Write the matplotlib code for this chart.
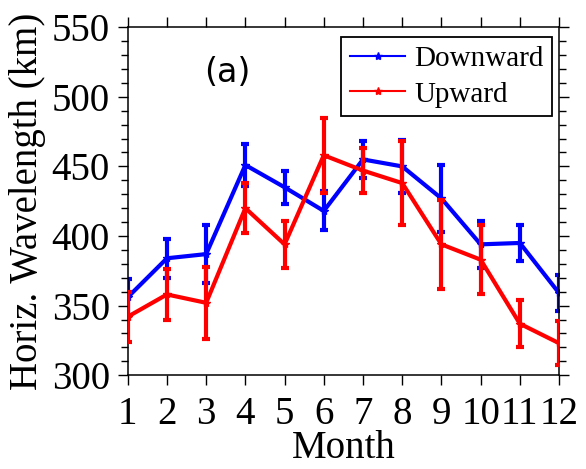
import numpy as np
import matplotlib.pyplot as plt
from matplotlib.ticker import MultipleLocator
from matplotlib.lines import Line2D

months = np.arange(1, 13)
down = [356, 384, 387, 451, 435, 418, 455, 450, 427, 394, 395, 359]
down_err = [13, 14, 21, 15, 12, 14, 13, 19, 24, 17, 13, 13]
up = [342, 358, 352, 420, 394, 458, 447, 438, 394, 383, 337, 323]
up_err = [18, 18, 26, 18, 17, 27, 16, 30, 32, 25, 17, 16]

plt.rcParams['font.family'] = ['Liberation Serif', 'DejaVu Serif']

fig = plt.figure(figsize=(5.86, 4.69), dpi=100)
ax = fig.add_axes([0.218, 0.200, 0.736, 0.742])

ax.errorbar(months, down, yerr=down_err, color='#0000ff', lw=3, elinewidth=3,
            capsize=3, capthick=3, marker='*', ms=6, label='Downward', zorder=2)
ax.errorbar(months, up, yerr=up_err, color='#ff0000', lw=3, elinewidth=3,
            capsize=3, capthick=3, marker='*', ms=6, label='Upward', zorder=3)

ax.set_xlim(1, 12)
ax.set_ylim(300, 550)
ax.set_xticks(months)
ax.yaxis.set_major_locator(MultipleLocator(50))
ax.yaxis.set_minor_locator(MultipleLocator(10))
ax.tick_params(axis='both', which='major', direction='out', length=7, width=1.0,
               top=True, right=True, labelsize=28)
ax.tick_params(axis='y', which='major', pad=6)
ax.tick_params(axis='x', which='major', pad=8)
ax.tick_params(axis='y', which='minor', direction='out', length=5, width=1.0, right=True)
for s in ax.spines.values():
    s.set_linewidth(1.1)

ax.set_xlabel('Month', fontsize=28, va='baseline')
ax.xaxis.set_label_coords(0.5, -0.238)
ax.set_ylabel('Horiz. Wavelength (km)', fontsize=28, labelpad=4)
ax.text(0.232, 0.87, '(a)', transform=ax.transAxes, fontsize=24,
        family='DejaVu Sans', ha='center', va='center')

l = ['Downward', 'Upward']
handles = [Line2D([], [], color='#0000ff', lw=1.5, marker='*', ms=6),
           Line2D([], [], color='#ff0000', lw=1.5, marker='*', ms=6)]
leg = ax.legend(handles, l, loc='upper right', bbox_to_anchor=(0.984, 0.971),
                borderaxespad=0, fontsize=21, fancybox=False, framealpha=1,
                edgecolor='black', handlelength=1.9, handletextpad=0.3,
                borderpad=0.3, labelspacing=0.3)
leg.get_frame().set_linewidth(1.3)

fig.savefig('out.png', dpi=100)
